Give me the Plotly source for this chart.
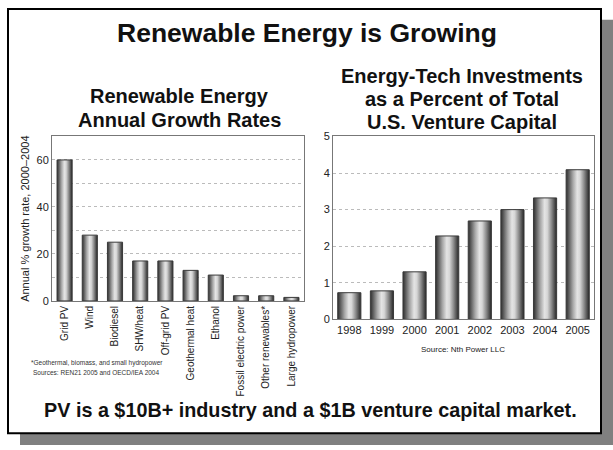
import plotly.graph_objects as go

# ---- data ----
growth_categories = ["Grid PV", "Wind", "Biodiesel", "SHW/heat", "Off-grid PV",
                     "Geothermal heat", "Ethanol", "Fossil electric power",
                     "Other renewables*", "Large hydropower"]
growth_rates = [60, 28, 25, 17, 17, 13, 11, 2.2, 2.2, 1.5]

vc_years = ["1998", "1999", "2000", "2001", "2002", "2003", "2004", "2005"]
vc_percent = [0.73, 0.78, 1.3, 2.28, 2.69, 3.0, 3.32, 4.09]

W, H = 613, 450
FONT = "Liberation Sans, Arial, sans-serif"

def px_x(x):
    return x / W

def px_y(y):
    return 1 - y / H

cyl = [[0.0, "#2e2e2e"], [0.12, "#5e5e5e"], [0.3, "#a8a8a8"], [0.48, "#e4e4e4"],
       [0.6, "#d6d6d6"], [0.78, "#8a8a8a"], [0.92, "#4a4a4a"], [1.0, "#262626"]]

fig = go.Figure()

def add_bars(values, half, xa, ya):
    for i, v in enumerate(values):
        fig.add_trace(go.Scatter(
            x=[i - half, i - half, i + half, i + half, i - half],
            y=[0, v, v, 0, 0],
            mode="lines", fill="toself",
            fillgradient=dict(type="horizontal", colorscale=cyl),
            line=dict(color="#3a3a3a", width=1),
            xaxis=xa, yaxis=ya, showlegend=False, hoverinfo="skip"))

add_bars(growth_rates, 0.3, "x", "y")
add_bars(vc_percent, 0.355, "x2", "y2")

axis_common = dict(showline=True, linecolor="#777", linewidth=1, mirror=True,
                   zeroline=False, ticks="")
tick_font = dict(family=FONT, size=11, color="#222")

fig.update_layout(
    width=W, height=H,
    margin=dict(l=0, r=0, t=0, b=0),
    paper_bgcolor="white", plot_bgcolor="white",
    font=dict(family=FONT, color="#111"),
    xaxis=dict(domain=[px_x(52), px_x(304)], range=[-0.5, len(growth_rates) - 0.5],
               tickvals=list(range(len(growth_categories))), ticktext=growth_categories,
               tickangle=-90, showgrid=False,
               tickfont=dict(family=FONT, size=10, color="#222"), **axis_common),
    yaxis=dict(domain=[px_y(303), px_y(134)], range=[0, 70],
               tickvals=[0, 10, 20, 30, 40, 50, 60],
               ticktext=["0", "", "20", "", "40", "", "60"],
               showgrid=True, gridcolor="#bbbbbb", griddash="dot", gridwidth=1,
               tickfont=tick_font,
               title=dict(text="Annual % growth rate, 2000–2004",
                          font=dict(family=FONT, size=11, color="#222"), standoff=4),
               **axis_common),
    xaxis2=dict(domain=[px_x(333), px_x(594)], range=[-0.5, len(vc_years) - 0.5],
                tickvals=list(range(len(vc_years))), ticktext=vc_years,
                showgrid=False, anchor="y2", tickfont=tick_font, **axis_common),
    yaxis2=dict(domain=[px_y(322), px_y(134)], range=[0, 5], dtick=1,
                showgrid=True, gridcolor="#bbbbbb", griddash="dot", gridwidth=1,
                anchor="x2", tickfont=tick_font, **axis_common),
)

shapes = [
    # shadow
    dict(type="rect", xref="paper", yref="paper", x0=px_x(20), x1=px_x(613),
         y0=px_y(451), y1=px_y(14), fillcolor="#808080", line=dict(width=0), layer="below"),
    # frame
    dict(type="rect", xref="paper", yref="paper", x0=px_x(8), x1=px_x(601),
         y0=px_y(439), y1=px_y(3), fillcolor="white", line=dict(color="black", width=2), layer="below"),
]
fig.update_layout(shapes=shapes)

def ann(text, x, y, size, bold=False, xanchor="center", color="#111", family=FONT):
    fig.add_annotation(text=f"<b>{text}</b>" if bold else text, xref="paper", yref="paper",
                       x=px_x(x), y=px_y(y), xanchor=xanchor, yanchor="middle",
                       showarrow=False,
                       font=dict(family=family, size=size, color=color))

ann("Renewable Energy is Growing", 307, 28, 26.5, bold=True)
ann("Renewable Energy", 179, 92, 20, bold=True)
ann("Annual Growth Rates", 179, 117, 20, bold=True)
ann("Energy-Tech Investments", 462, 72, 20, bold=True)
ann("as a Percent of Total", 462, 96, 20, bold=True)
ann("U.S. Venture Capital", 462, 119, 20, bold=True)
ann("*Geothermal, biomass, and small hydropower", 29, 367, 6.5, xanchor="left", color="#333")
ann("Sources: REN21 2005 and OECD/IEA 2004", 31, 377, 6.5, xanchor="left", color="#333")
ann("Source: Nth Power LLC", 463, 353, 8, color="#222")
ann("PV is a $10B+ industry and a $1B venture capital market.", 310, 415, 19.8, bold=True)

fig.write_html("out.html")
